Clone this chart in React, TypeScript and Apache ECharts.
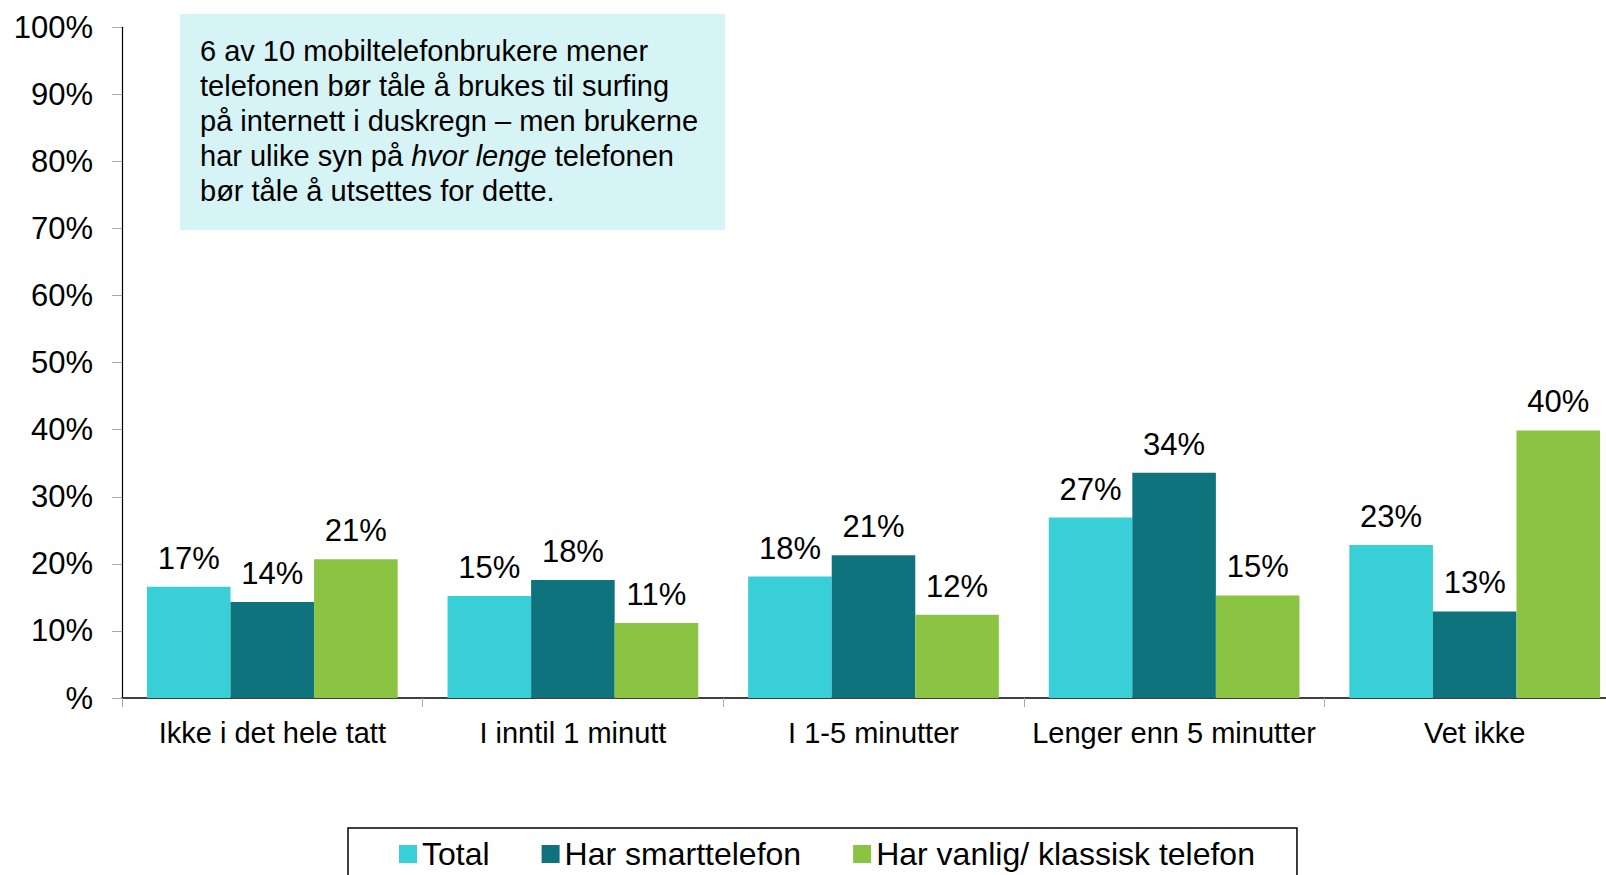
import React, { useEffect, useRef } from "react";
import * as echarts from "echarts";

const categories = [
  "Ikke i det hele tatt",
  "I inntil 1 minutt",
  "I 1-5 minutter",
  "Lenger enn 5 minutter",
  "Vet ikke",
];
const seriesNames = ["Total", "Har smarttelefon", "Har vanlig/ klassisk telefon"];
const totalValues = [16.6, 15.2, 18.1, 26.9, 22.8];
const smartValues = [14.3, 17.6, 21.3, 33.6, 12.9];
const classicValues = [20.7, 11.2, 12.4, 15.3, 39.9];
const colors = ["#38cfd6", "#0f737e", "#8bc443"];
const yTicks = [0, 10, 20, 30, 40, 50, 60, 70, 80, 90, 100];
const noteLines = [
  "6 av 10 mobiltelefonbrukere mener",
  "telefonen bør tåle å brukes til surfing",
  "på internett i duskregn – men brukerne",
  "har ulike syn på {i|hvor lenge} telefonen",
  "bør tåle å utsettes for dette.",
];

const FONT = "'Liberation Sans', Arial, sans-serif";

export default function App() {
  const ref = useRef<HTMLDivElement>(null);
  useEffect(() => {
    if (!ref.current) return;
    const chart = echarts.init(ref.current, undefined, { renderer: "svg" });
    const seriesData = [totalValues, smartValues, classicValues];
    chart.setOption({
      animation: false,
      textStyle: { fontFamily: FONT },
      color: colors,
      grid: { left: 122, top: 27.3, bottom: 177, right: 0, containLabel: false },
      legend: {
        left: 348,
        top: 828,
        orient: "horizontal",
        icon: "rect",
        itemWidth: 18,
        itemHeight: 18,
        itemGap: 52,
        padding: [10, 42, 40, 51],
        borderColor: "#000",
        borderWidth: 1.5,
        textStyle: { fontSize: 32, color: "#000", fontFamily: FONT },
        data: seriesNames,
      },
      xAxis: {
        type: "category",
        data: categories,
        axisLine: { lineStyle: { color: "#000", width: 1.5 } },
        axisTick: { show: true, alignWithLabel: false, length: 9, lineStyle: { color: "#aaa" } },
        axisLabel: { fontSize: 29, color: "#000", margin: 20, fontFamily: FONT, interval: 0 },
        splitLine: { show: false },
      },
      yAxis: {
        type: "value",
        min: yTicks[0],
        max: yTicks[yTicks.length - 1],
        interval: 10,
        axisLine: { show: true, lineStyle: { color: "#000", width: 1.2 } },
        axisTick: { show: true, length: 10, lineStyle: { color: "#aaa" } },
        axisLabel: {
          fontSize: 31,
          color: "#000",
          margin: 29,
          fontFamily: FONT,
          formatter: (v: number) => (v === 0 ? "%" : v + "%"),
        },
        splitLine: { show: false },
      },
      series: seriesNames.map((name, i) => ({
        name,
        type: "bar",
        data: seriesData[i],
        barGap: "0%",
        barCategoryGap: "16.6%",
        itemStyle: { color: colors[i] },
        label: {
          show: true,
          position: "top",
          distance: 13,
          fontSize: 31,
          color: "#000",
          fontFamily: FONT,
          formatter: (p: any) => Math.round(p.value) + "%",
        },
      })),
      graphic: [
        {
          type: "rect",
          left: 180,
          top: 14,
          shape: { width: 545, height: 216 },
          style: { fill: "#d6f3f5" },
          z: 10,
        },
        {
          type: "text",
          left: 200,
          top: 33,
          z: 11,
          style: {
            text: noteLines.join("\n"),
            fontSize: 29,
            lineHeight: 35,
            fill: "#000",
            fontFamily: FONT,
            rich: {
              i: { fontStyle: "italic", fontSize: 29, lineHeight: 35, fontFamily: FONT, fill: "#000" },
            },
          },
        },
      ],
    });
    return () => chart.dispose();
  }, []);
  return (
    <div
      style={{ position: "absolute", left: 0, top: 0, width: 1606, height: 875, overflow: "hidden" }}
    >
      <div ref={ref} style={{ width: 1625, height: 875 }} />
    </div>
  );
}
